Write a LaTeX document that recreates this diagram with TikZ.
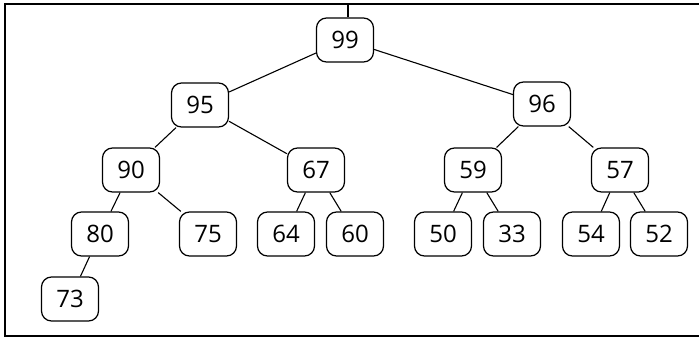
\documentclass[tikz,border=0pt]{standalone}
\usepackage{fontspec}
\setmainfont{Open Sans}
\begin{document}
\begin{tikzpicture}[x=1pt,y=-1pt,
  hnode/.style={draw, line width=1.2pt, rounded corners=10pt, minimum width=57pt, minimum height=44pt, inner sep=0pt, font=\fontsize{24}{28}\selectfont},
  edge/.style={line width=1.1pt}]
\useasboundingbox (0,0) rectangle (699,338);
\fill[white] (0,0) rectangle (699,338);
\draw[line width=1.3pt] (699,4) -- (5,4) -- (5,336) -- (699,336);
\coordinate (topc) at (348,4);
\node[hnode] (n99) at (345,40) {99};
\node[hnode] (n95) at (200,105) {95};
\node[hnode] (n96) at (542,104) {96};
\node[hnode] (n90) at (131,170) {90};
\node[hnode] (n67) at (316,170) {67};
\node[hnode] (n59) at (473,170) {59};
\node[hnode] (n57) at (620,170) {57};
\node[hnode] (n80) at (100,234) {80};
\node[hnode] (n75) at (208,234) {75};
\node[hnode] (n64) at (286,234) {64};
\node[hnode] (n60) at (355,234) {60};
\node[hnode] (n50) at (443,234) {50};
\node[hnode] (n33) at (512,234) {33};
\node[hnode] (n54) at (591,234) {54};
\node[hnode] (n52) at (659,234) {52};
\node[hnode] (n73) at (70,299) {73};
\draw[edge] (topc) -- (n99.north -| topc);
\draw[edge] (n99) -- (n95);
\draw[edge] (n99) -- (n96);
\draw[edge] (n95) -- (n90);
\draw[edge] (n95) -- (n67);
\draw[edge] (n96) -- (n59);
\draw[edge] (n96) -- (n57);
\draw[edge] (n90) -- (n80);
\draw[edge] (n90) -- (n75);
\draw[edge] (n67) -- (n64);
\draw[edge] (n67) -- (n60);
\draw[edge] (n59) -- (n50);
\draw[edge] (n59) -- (n33);
\draw[edge] (n57) -- (n54);
\draw[edge] (n57) -- (n52);
\draw[edge] (n80) -- (n73);
\end{tikzpicture}
\end{document}
